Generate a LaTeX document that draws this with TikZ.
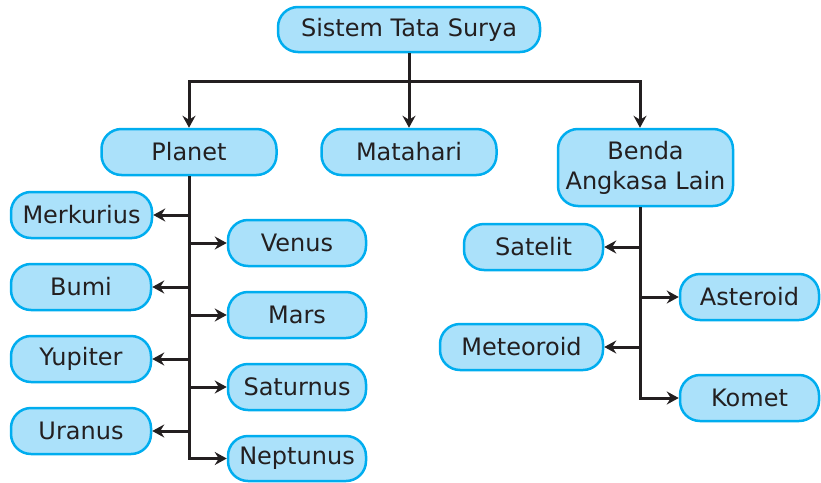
\documentclass[tikz,border=0pt]{standalone}
\usepackage{fontspec}
\setmainfont{DejaVu Sans}
\usetikzlibrary{arrows.meta,positioning}
\definecolor{boxline}{RGB}{0,173,239}
\definecolor{boxfill}{RGB}{171,225,250}
\definecolor{inkline}{RGB}{35,31,32}

\begin{document}
\begin{tikzpicture}[x=1pt,y=-1pt,>={Stealth[length=12pt,width=13pt,inset=4pt]},
  box/.style={draw=boxline,line width=2.5pt,fill=boxfill,rounded corners=20pt,
              align=center,inner sep=0pt,minimum height=46pt,minimum width=140pt,
              text=inkline,font=\fontsize{24}{30}\selectfont},
  wide/.style={minimum width=175pt},
  link/.style={draw=inkline,line width=3pt}]
\useasboundingbox (0,0) rectangle (821,482);
% root and first level
\node[box,minimum width=262pt,minimum height=45pt] (sistem) at (409,29.5) {Sistem Tata Surya};
\node[box,wide] (planet) at (189,152) {Planet};
\node[box,wide] (matahari) at (409,152) {Matahari};
\node[box,wide,minimum height=77pt] (benda) at (645.5,167.5) {Benda\\Angkasa Lain};
% planets
\node[box,minimum width=141pt] (merkurius) at (81.5,215) {Merkurius};
\node[box,minimum width=138pt] (venus) at (297,243) {Venus};
\node[box] (bumi) at (81,287) {Bumi};
\node[box,minimum width=138pt] (mars) at (297,315) {Mars};
\node[box] (yupiter) at (81,359) {Yupiter};
\node[box,minimum width=138pt] (saturnus) at (297,387) {Saturnus};
\node[box] (uranus) at (81,431) {Uranus};
\node[box,minimum width=138pt,minimum height=45pt] (neptunus) at (297,458.5) {Neptunus};
% other bodies
\node[box,minimum width=139pt] (satelit) at (533.5,247) {Satelit};
\node[box,minimum width=139pt] (asteroid) at (749.5,297) {Asteroid};
\node[box,minimum width=163pt] (meteoroid) at (521.5,347) {Meteoroid};
\node[box,minimum width=139pt] (komet) at (749.5,398) {Komet};
% connectors
\path (sistem.south) ++(0,28) coordinate (split);
\draw[link] (sistem.south) -- (split);
\draw[link,->] (split) -| (planet.north);
\draw[link,->] (split) -- (matahari.north);
\draw[link,->] (split) -| ([xshift=-5.5pt]benda.north);
\foreach \p in {merkurius,venus,bumi,mars,yupiter,saturnus,uranus,neptunus}
  \draw[link,->] (planet.south) |- (\p);
\foreach \b in {satelit,asteroid,meteoroid,komet}
  \draw[link,->] ([xshift=-5.5pt]benda.south) |- (\b);
\end{tikzpicture}
\end{document}
